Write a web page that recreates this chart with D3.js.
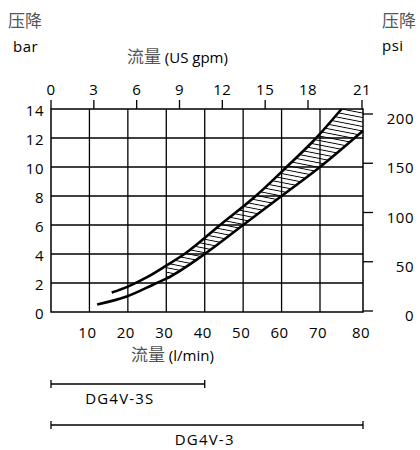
<!DOCTYPE html>
<html>
<head>
<meta charset="utf-8">
<script src="https://cdn.jsdelivr.net/npm/d3@7"></script>
<style>
  body { margin: 0; background: #fff; }
  text { font-family: "Open Sans", "DejaVu Sans", sans-serif; }
  .cjk { font-family: "Noto Sans CJK SC", sans-serif; fill: #555; }
</style>
</head>
<body>
<svg id="chart" width="420" height="450"></svg>
<script>
// tick values
var flowTicks = [10, 20, 30, 40, 50, 60, 70, 80];      // l/min, bottom
var gpmTicks = [0, 3, 6, 9, 12, 15, 18, 21];           // US gpm, top
var barTicks = [0, 2, 4, 6, 8, 10, 12, 14];            // bar, left
var psiTicks = [0, 50, 100, 150, 200];                 // psi, right

// pressure drop curves (flow l/min, pressure bar)
var upperFlow = [15.8, 20, 25, 30, 35, 44, 53.5, 61.3, 69, 75];
var upperBar  = [1.34, 1.75, 2.4, 3.2, 4.05, 6, 8.05, 10, 12, 14];
var lowerFlow = [12, 19.5, 27.5, 30, 40, 50, 60, 70, 80];
var lowerBar  = [0.52, 1.05, 2, 2.3, 4, 6, 8, 10, 12.5];

var hatchFrom = 30;   // hatched band starts at this flow

// valve ranges
var valveNames = ["DG4V-3S", "DG4V-3"];
var valveMaxFlow = [40, 80];

var svg = d3.select("#chart");

// note: "top" is reserved on window, so prefix these
var plotLeft = 51, plotRight = 363, plotTop = 109, plotBottom = 312;

var x = d3.scaleLinear().domain([0, 70, 80]).range([plotLeft, 320, plotRight]);
var gpm = d3.scaleLinear().domain([0, 18, 21]).range([plotLeft, 308, 362]);
var y = d3.scaleLinear().domain([0, 14]).range([plotBottom, plotTop]);
var psi = d3.scaleLinear().domain([0, 200]).range([311, 114]);

var upper = upperFlow.map(function(f, i) { return [f, upperBar[i]]; });
var lower = lowerFlow.map(function(f, i) { return [f, lowerBar[i]]; });

var line = d3.line()
    .x(function(d) { return x(d[0]); })
    .y(function(d) { return y(d[1]); })
    .curve(d3.curveMonotoneX);

var defs = svg.append("defs");

// hatch pattern
var pat = defs.append("pattern")
    .attr("id", "hatch")
    .attr("patternUnits", "userSpaceOnUse")
    .attr("width", 20)
    .attr("height", 4.4)
    .attr("patternTransform", "rotate(11)");
pat.append("line")
    .attr("x1", 0).attr("x2", 20)
    .attr("y1", 2.2).attr("y2", 2.2)
    .attr("stroke", "#000")
    .attr("stroke-width", 0.95);

// below upper curve
defs.append("clipPath").attr("id", "belowUpper")
  .append("path")
    .attr("d", line(upper) + "L" + x(80) + "," + y(14) + "L" + x(80) + "," + y(0) + "L" + x(0) + "," + y(0) + "Z");

// above lower curve
defs.append("clipPath").attr("id", "aboveLower")
  .append("path")
    .attr("d", line(lower) + "L" + x(80) + "," + y(14) + "L" + x(0) + "," + y(14) + "L" + x(0) + "," + y(lowerBar[0]) + "Z");

svg.append("g")
    .attr("clip-path", "url(#belowUpper)")
  .append("g")
    .attr("clip-path", "url(#aboveLower)")
  .append("rect")
    .attr("x", x(hatchFrom))
    .attr("y", y(14))
    .attr("width", x(80) - x(hatchFrom))
    .attr("height", y(0) - y(14))
    .attr("fill", "url(#hatch)");

// grid
svg.append("g")
    .selectAll("line")
    .data(flowTicks.slice(0, -1))
    .join("line")
    .attr("x1", function(d) { return x(d); })
    .attr("x2", function(d) { return x(d); })
    .attr("y1", y(0)).attr("y2", y(14))
    .attr("stroke", "#000").attr("stroke-width", 1.3);

svg.append("g")
    .selectAll("line")
    .data(barTicks.slice(1, -1))
    .join("line")
    .attr("x1", x(0)).attr("x2", x(80))
    .attr("y1", function(d) { return y(d); })
    .attr("y2", function(d) { return y(d); })
    .attr("stroke", "#000").attr("stroke-width", 1.3);

svg.append("rect")
    .attr("x", x(0)).attr("y", y(14))
    .attr("width", x(80) - x(0))
    .attr("height", y(0) - y(14))
    .attr("fill", "none")
    .attr("stroke", "#000")
    .attr("stroke-width", 1.5);

// curves
svg.selectAll(".curve")
    .data([upper, lower])
    .join("path")
    .attr("class", "curve")
    .attr("d", line)
    .attr("fill", "none")
    .attr("stroke", "#000")
    .attr("stroke-width", 2.6);

// left axis labels
svg.append("g")
    .selectAll("text")
    .data(barTicks)
    .join("text")
    .attr("x", 44)
    .attr("y", function(d) { return y(d) + 7; })
    .attr("text-anchor", "end")
    .attr("font-size", 15)
    .attr("letter-spacing", 0.5)
    .text(function(d) { return d; });

// bottom axis labels
svg.append("g")
    .selectAll("text")
    .data(flowTicks)
    .join("text")
    .attr("x", function(d) { return x(d) - 2; })
    .attr("y", 338)
    .attr("text-anchor", "middle")
    .attr("font-size", 15)
    .attr("letter-spacing", 0.5)
    .text(function(d) { return d; });

// top axis
svg.append("g")
    .selectAll("line")
    .data(gpmTicks)
    .join("line")
    .attr("x1", function(d) { return gpm(d); })
    .attr("x2", function(d) { return gpm(d); })
    .attr("y1", plotTop - 9).attr("y2", plotTop)
    .attr("stroke", "#000").attr("stroke-width", 1.3);

svg.append("g")
    .selectAll("text")
    .data(gpmTicks)
    .join("text")
    .attr("x", function(d) { return gpm(d); })
    .attr("y", 95)
    .attr("text-anchor", "middle")
    .attr("font-size", 15)
    .attr("letter-spacing", 0.5)
    .text(function(d) { return d; });

// right axis
svg.append("g")
    .selectAll("line")
    .data(psiTicks)
    .join("line")
    .attr("x1", plotRight).attr("x2", plotRight + 10)
    .attr("y1", function(d) { return psi(d); })
    .attr("y2", function(d) { return psi(d); })
    .attr("stroke", "#000").attr("stroke-width", 1.3);

svg.append("g")
    .selectAll("text")
    .data(psiTicks)
    .join("text")
    .attr("x", 414)
    .attr("y", function(d) { return psi(d) + 10; })
    .attr("text-anchor", "end")
    .attr("font-size", 15)
    .attr("letter-spacing", 0.5)
    .text(function(d) { return d; });

// titles
svg.append("text").attr("class", "cjk").attr("x", 8).attr("y", 27).attr("font-size", 17).text("压降");
svg.append("text").attr("x", 13).attr("y", 52).attr("font-size", 15).attr("letter-spacing", 0.5).text("bar");
svg.append("text").attr("class", "cjk").attr("x", 382).attr("y", 27).attr("font-size", 17).text("压降");
svg.append("text").attr("x", 382).attr("y", 51).attr("font-size", 15).attr("letter-spacing", 0.5).text("psi");

var topTitle = svg.append("text").attr("x", 127).attr("y", 63).attr("font-size", 15);
topTitle.append("tspan").attr("class", "cjk").attr("font-size", 17).text("流量 ");
topTitle.append("tspan").text("(US gpm)");

var bottomTitle = svg.append("text").attr("x", 131).attr("y", 361).attr("font-size", 15);
bottomTitle.append("tspan").attr("class", "cjk").attr("font-size", 17).text("流量 ");
bottomTitle.append("tspan").text("(l/min)");

// valve ranges
var valveY = [384, 425];
var rangeG = svg.append("g")
    .selectAll("g")
    .data(valveNames)
    .join("g");

rangeG.append("line")
    .attr("x1", x(0))
    .attr("x2", function(d, i) { return x(valveMaxFlow[i]); })
    .attr("y1", function(d, i) { return valveY[i]; })
    .attr("y2", function(d, i) { return valveY[i]; })
    .attr("stroke", "#000").attr("stroke-width", 1.3);

rangeG.append("line")
    .attr("x1", x(0)).attr("x2", x(0))
    .attr("y1", function(d, i) { return valveY[i] - 4; })
    .attr("y2", function(d, i) { return valveY[i] + 4; })
    .attr("stroke", "#000").attr("stroke-width", 1.3);

rangeG.append("line")
    .attr("x1", function(d, i) { return x(valveMaxFlow[i]); })
    .attr("x2", function(d, i) { return x(valveMaxFlow[i]); })
    .attr("y1", function(d, i) { return valveY[i] - 4; })
    .attr("y2", function(d, i) { return valveY[i] + 4; })
    .attr("stroke", "#000").attr("stroke-width", 1.3);

rangeG.append("text")
    .attr("x", function(d, i) { return i == 0 ? x(valveMaxFlow[i] / 2) - 8 : x(valveMaxFlow[i] / 2); })
    .attr("y", function(d, i) { return valveY[i] + 20; })
    .attr("text-anchor", "middle")
    .attr("font-size", 15)
    .attr("letter-spacing", 1.2)
    .text(function(d) { return d; });
</script>
</body>
</html>
